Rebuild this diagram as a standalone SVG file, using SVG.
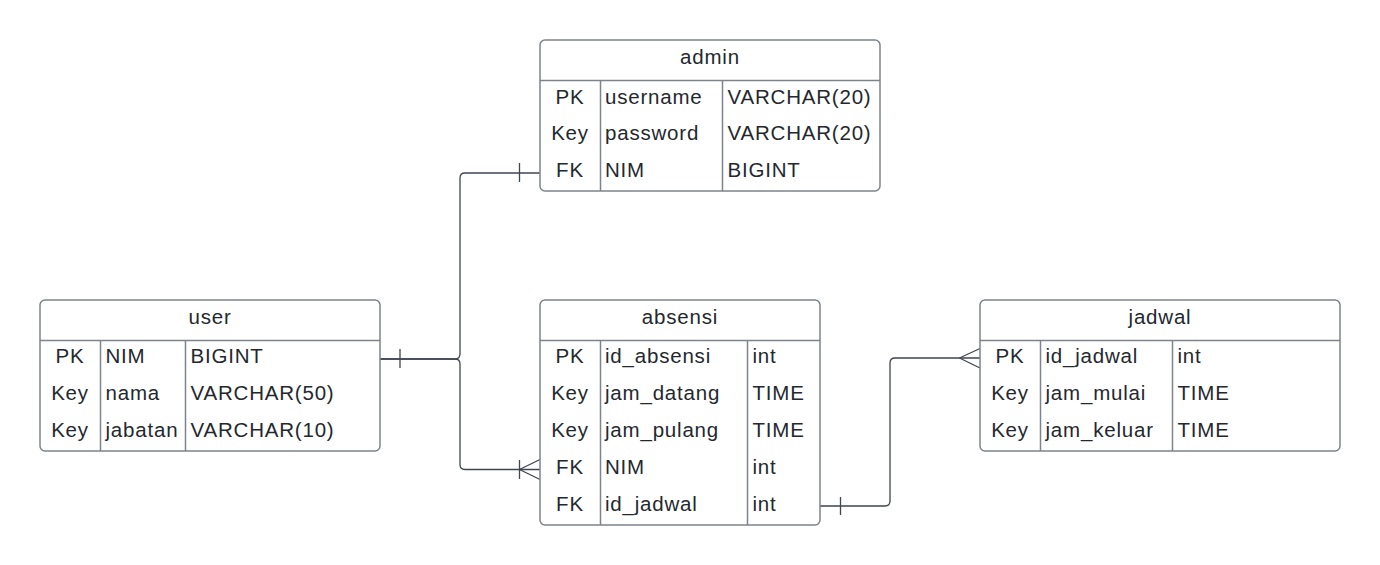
<svg xmlns="http://www.w3.org/2000/svg" width="1380" height="565" viewBox="0 0 1380 565">
<style>
.box{fill:#fff;stroke:#7d838c;stroke-width:1.5}
.c{fill:none;stroke:#3f4650;stroke-width:1.3}
text{font-family:"Liberation Sans",Arial,sans-serif;font-size:20.5px;fill:#24282e;letter-spacing:0.8px}
.m{text-anchor:middle}
</style>
<rect width="1380" height="565" fill="#fff"/>
<g id="connectors">
<path class="c" d="M380,359 H455 Q460,359 460,354 V178 Q460,173 465,173 H540"/>
<path class="c" d="M400,349 V368 M519.5,163 V182"/>
<path class="c" d="M380,359 H455 Q460,359 460,364 V464.5 Q460,469.5 465,469.5 H540"/>
<path class="c" d="M519.5,469.5 L540,459.5 M519.5,469.5 L540,479.5 M519.5,460 V479"/>
<path class="c" d="M820,506 H885 Q890,506 890,501 V363 Q890,358 895,358 H980"/>
<path class="c" d="M840.5,497 V515 M959.5,358 L980,348.5 M959.5,358 L980,368"/>
</g>
<g id="admin">
<rect class="box" x="540" y="40" width="340" height="151" rx="5"/>
<path class="box" d="M540,80.5 H880 M600.5,80.5 V191 M722.5,80.5 V191"/>
<text class="m" x="710" y="64">admin</text>
<text class="m" x="570" y="103.5">PK</text><text x="605" y="103.5">username</text><text x="727.5" y="103.5">VARCHAR(20)</text>
<text class="m" x="570" y="140">Key</text><text x="605" y="140">password</text><text x="727.5" y="140">VARCHAR(20)</text>
<text class="m" x="570" y="176.5">FK</text><text x="605" y="176.5">NIM</text><text x="727.5" y="176.5">BIGINT</text>
</g>
<g id="user">
<rect class="box" x="40" y="300" width="340" height="151" rx="5"/>
<path class="box" d="M40,340.5 H380 M100.5,340.5 V451 M185.5,340.5 V451"/>
<text class="m" x="210" y="324">user</text>
<text class="m" x="70" y="363">PK</text><text x="105.5" y="363">NIM</text><text x="190.5" y="363">BIGINT</text>
<text class="m" x="70" y="400">Key</text><text x="105.5" y="400">nama</text><text x="190.5" y="400">VARCHAR(50)</text>
<text class="m" x="70" y="436.5">Key</text><text x="105.5" y="436.5">jabatan</text><text x="190.5" y="436.5">VARCHAR(10)</text>
</g>
<g id="absensi">
<rect class="box" x="540" y="300" width="280" height="225" rx="5"/>
<path class="box" d="M540,340.5 H820 M600.5,340.5 V525 M747.5,340.5 V525"/>
<text class="m" x="680" y="324">absensi</text>
<text class="m" x="570" y="363">PK</text><text x="605" y="363">id_absensi</text><text x="752.5" y="363">int</text>
<text class="m" x="570" y="400">Key</text><text x="605" y="400">jam_datang</text><text x="752.5" y="400">TIME</text>
<text class="m" x="570" y="436.5">Key</text><text x="605" y="436.5">jam_pulang</text><text x="752.5" y="436.5">TIME</text>
<text class="m" x="570" y="473.5">FK</text><text x="605" y="473.5">NIM</text><text x="752.5" y="473.5">int</text>
<text class="m" x="570" y="510.5">FK</text><text x="605" y="510.5">id_jadwal</text><text x="752.5" y="510.5">int</text>
</g>
<g id="jadwal">
<rect class="box" x="980" y="300" width="360" height="151" rx="5"/>
<path class="box" d="M980,340.5 H1340 M1040.5,340.5 V451 M1172.5,340.5 V451"/>
<text class="m" x="1160" y="324">jadwal</text>
<text class="m" x="1010" y="363">PK</text><text x="1045.5" y="363">id_jadwal</text><text x="1177.5" y="363">int</text>
<text class="m" x="1010" y="400">Key</text><text x="1045.5" y="400">jam_mulai</text><text x="1177.5" y="400">TIME</text>
<text class="m" x="1010" y="436.5">Key</text><text x="1045.5" y="436.5">jam_keluar</text><text x="1177.5" y="436.5">TIME</text>
</g>
</svg>
